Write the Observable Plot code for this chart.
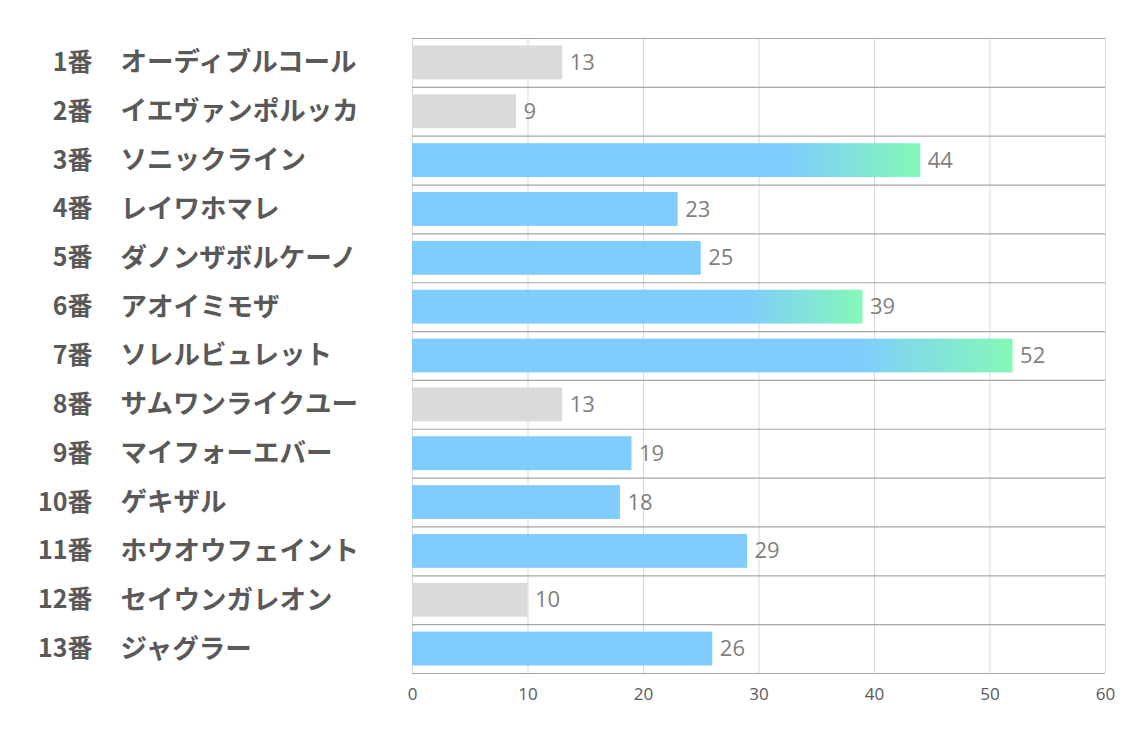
<!DOCTYPE html>
<html>
<head>
<meta charset="utf-8">
<script src="https://cdn.jsdelivr.net/npm/d3@7"></script>
<script src="https://cdn.jsdelivr.net/npm/@observablehq/plot@0.6"></script>
<style>
  html, body { margin: 0; padding: 0; background: #fff; }
  #chart { width: 1134px; height: 737px; }
</style>
</head>
<body>
<div id="chart"></div>
<script>
const numbers = ["1番","2番","3番","4番","5番","6番","7番","8番","9番","10番","11番","12番","13番"];
const names = ["オーディブルコール","イエヴァンポルッカ","ソニックライン","レイワホマレ","ダノンザボルケーノ","アオイミモザ","ソレルビュレット","サムワンライクユー","マイフォーエバー","ゲキザル","ホウオウフェイント","セイウンガレオン","ジャグラー"];
const values = [13, 9, 44, 23, 25, 39, 52, 13, 19, 18, 29, 10, 26];
const groups = ["low","low","top","mid","mid","top","top","low","mid","mid","mid","low","mid"];
const xTicks = [0, 10, 20, 30, 40, 50, 60];

const data = numbers.map((n, i) => ({key: n, num: n, name: names[i], value: values[i], group: groups[i]}));

const W = 1134, H = 737, mt = 38, mb = 64, ml = 412, mr = 29;
const step = (H - mt - mb) / numbers.length;

const fillFor = g => g === "low" ? "#d9d9d9" : g === "top" ? "url(#barGrad)" : "#7acafd";

const chart = Plot.plot({
  width: W,
  height: H,
  marginTop: mt,
  marginBottom: mb,
  marginLeft: ml,
  marginRight: mr,
  x: {domain: [0, 60], label: null, axis: null},
  y: {domain: numbers, padding: 0, round: false, axis: null},
  style: {fontFamily: "'Open Sans', 'Noto Sans CJK JP', sans-serif", background: "#fff"},
  marks: [
    Plot.ruleX(xTicks, {stroke: "#d9d9d9", strokeWidth: 1}),
    Plot.ruleY(data, {y: "key", dy: -step / 2, stroke: "#a6a6a6", strokeWidth: 1.2}),
    Plot.ruleY([numbers[numbers.length - 1]], {y: d => d, dy: step / 2, stroke: "#a6a6a6", strokeWidth: 1.2}),
    Plot.text(xTicks, {
      x: d => d, frameAnchor: "bottom", dy: 26, text: d => String(d),
      fontSize: 17, fill: "#595959", fontFamily: "'Liberation Sans Narrow', 'Open Sans', sans-serif"
    }),
    Plot.barX(data, {
      x: "value", y: "key",
      fill: d => fillFor(d.group),
      fillOpacity: 0.96,
      insetTop: 7.5, insetBottom: 7.5
    }),
    Plot.text(data, {
      x: "value", y: "key", text: d => String(d.value),
      textAnchor: "start", dx: 7, fill: "#7f7f7f", fontSize: 22,
      fontFamily: "'Open Sans', sans-serif"
    }),
    Plot.text(data, {
      x: () => 0, y: "key", text: "num",
      textAnchor: "end", dx: -320, fill: "#595959", fontSize: 25, fontWeight: "bold",
      fontFamily: "'Noto Sans CJK JP', 'Open Sans', sans-serif"
    }),
    Plot.text(data, {
      x: () => 0, y: "key", text: "name",
      textAnchor: "start", dx: -292, fill: "#595959", fontSize: 26.5, fontWeight: "bold",
      fontFamily: "'Noto Sans CJK JP', sans-serif"
    })
  ]
});

// gradient definition for the highlighted bars
const svg = d3.select(chart);
const defs = svg.insert("defs", ":first-child");
const grad = defs.append("linearGradient")
  .attr("id", "barGrad")
  .attr("x1", "0").attr("x2", "1").attr("y1", "0").attr("y2", "0");
grad.append("stop").attr("offset", "0.74").attr("stop-color", "#7acafd");
grad.append("stop").attr("offset", "1").attr("stop-color", "#7ff8b4");

document.getElementById("chart").appendChild(chart);
</script>
</body>
</html>
